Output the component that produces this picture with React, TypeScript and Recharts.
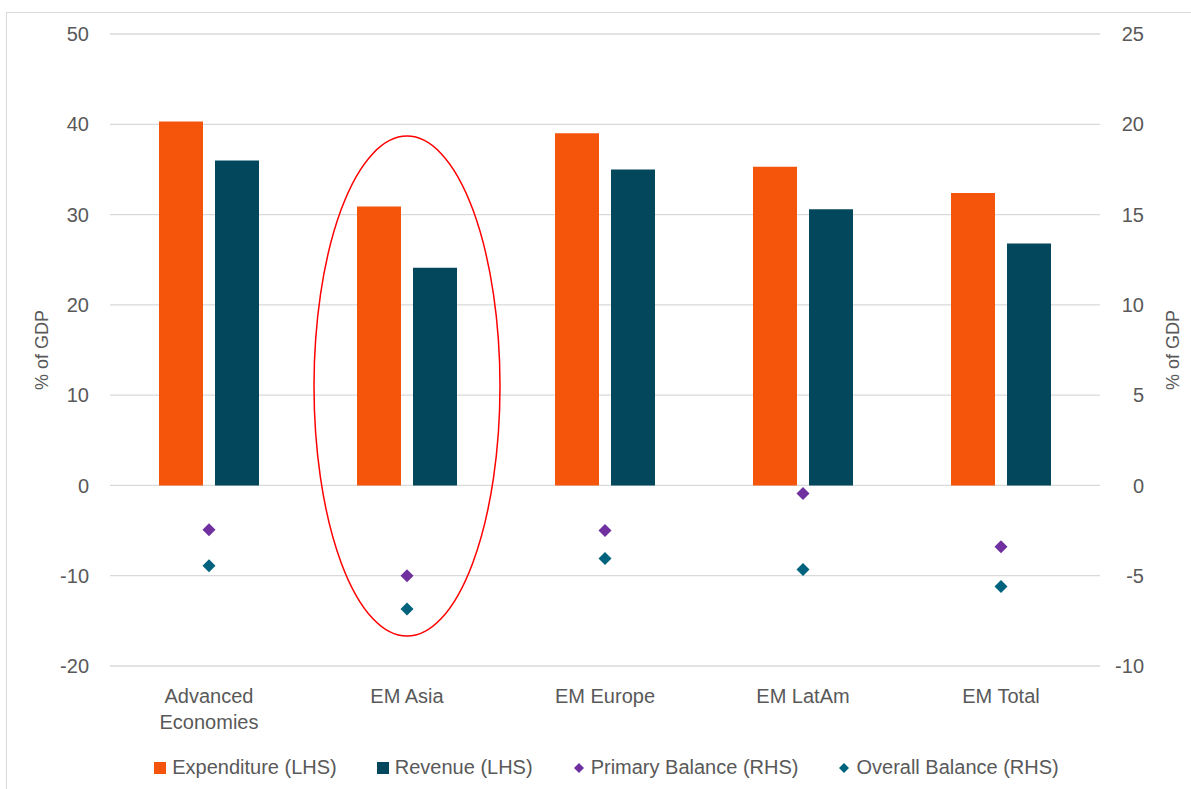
import { ComposedChart, Bar, Scatter, XAxis, YAxis, CartesianGrid, Legend, ReferenceDot } from 'recharts'

const regions = ['Advanced Economies', 'EM Asia', 'EM Europe', 'EM LatAm', 'EM Total']
const expenditure = [40.3, 30.9, 39.0, 35.3, 32.4]
const revenue = [36.0, 24.1, 35.0, 30.6, 26.8]
const primaryBalance = [-2.45, -5.0, -2.5, -0.45, -3.4]
const overallBalance = [-4.45, -6.85, -4.05, -4.65, -5.6]

const leftTicks = [-20, -10, 0, 10, 20, 30, 40, 50]
const rightTicks = [-10, -5, 0, 5, 10, 15, 20, 25]

const COLORS = {
    expenditure: '#F4550B',
    revenue: '#02475B',
    primary: '#7030A0',
    overall: '#00627D',
}

const SERIES = [
    { name: 'Expenditure (LHS)', color: COLORS.expenditure, kind: 'square' },
    { name: 'Revenue (LHS)', color: COLORS.revenue, kind: 'square' },
    { name: 'Primary Balance (RHS)', color: COLORS.primary, kind: 'diamond' },
    { name: 'Overall Balance (RHS)', color: COLORS.overall, kind: 'diamond' },
]

const data = regions.map((r, i) => ({
    region: r,
    expenditure: expenditure[i],
    revenue: revenue[i],
    primary: primaryBalance[i],
    overall: overallBalance[i],
}))

const FONT = '"Liberation Sans", Arial, sans-serif'
const TEXT = '#595959'

const Diamond = (color: string) => (props: any) => {
    const { cx, cy } = props
    const h = 6.5
    return <polygon points={`${cx},${cy - h} ${cx + h},${cy} ${cx},${cy + h} ${cx - h},${cy}`} fill={color}/>
}

function CategoryTick(props: any) {
    const { x, y, payload } = props
    const words: string[] = payload.value === 'Advanced Economies' ? ['Advanced', 'Economies'] : [payload.value]
    return (
        <text x={x} y={y} textAnchor="middle" fill={TEXT} fontSize={20} fontFamily={FONT}>
            {words.map((w, i) => (
                <tspan key={i} x={x} dy={i === 0 ? 29 : 26}>{w}</tspan>
            ))}
        </text>
    )
}

function RightTick(props: any) {
    const { x, y, payload } = props
    return (
        <text x={x} y={y} dy="0.355em" textAnchor="end" fill={TEXT} fontSize={20} fontFamily={FONT}>
            {payload.value}
        </text>
    )
}

function LegendContent() {
    return (
        <div style={{ display: 'flex', justifyContent: 'center', gap: 40, paddingLeft: 22, paddingTop: 11, fontFamily: FONT, fontSize: 20, color: TEXT }}>
            {SERIES.map((s, i) => (
                <div key={i} style={{ display: 'flex', alignItems: 'center', gap: 6 }}>
                    {s.kind === 'square'
                        ? <div style={{ width: 12, height: 12, background: s.color }}/>
                        : <svg width={12} height={12}><polygon points="6,1 11,6 6,11 1,6" fill={s.color}/></svg>}
                    <span>{s.name}</span>
                </div>
            ))}
        </div>
    )
}

export default function App() {
    return (
        <div style={{ position: 'absolute', left: 0, top: 0, width: 1191, height: 789, background: '#fff', overflow: 'hidden' }}>
            <div style={{ position: 'absolute', left: 6, top: 12, width: 1250, height: 850, border: '1px solid #d9d9d9' }}/>
            <ComposedChart
                width={1191}
                height={789}
                data={data}
                margin={{ top: 34, right: 0, bottom: 0, left: 0 }}
                barGap={12}
                style={{ position: 'absolute', left: 0, top: 0 }}>
                <CartesianGrid vertical={false} stroke="#d9d9d9" strokeWidth={1.3} yAxisId="left"/>
                <XAxis dataKey="region" axisLine={false} tickLine={false} height={79} tick={<CategoryTick/>} interval={0}/>
                <YAxis
                    yAxisId="left"
                    domain={[-20, 50]}
                    ticks={leftTicks}
                    width={110}
                    axisLine={false}
                    tickLine={false}
                    tick={{ fill: TEXT, fontSize: 20, fontFamily: FONT }}
                    tickMargin={15}
                    label={{ value: '% of GDP', angle: -90, position: 'center', dx: -13, fill: TEXT, fontSize: 18, fontFamily: FONT }}
                />
                <YAxis
                    yAxisId="right"
                    orientation="right"
                    domain={[-10, 25]}
                    ticks={rightTicks}
                    width={91}
                    axisLine={false}
                    tickLine={false}
                    tick={<RightTick/>}
                    tickMargin={38}
                    label={{ value: '% of GDP', angle: -90, position: 'center', dx: 27, fill: TEXT, fontSize: 18, fontFamily: FONT }}
                />
                <Bar yAxisId="left" dataKey="expenditure" name={SERIES[0].name} fill={COLORS.expenditure} barSize={44} isAnimationActive={false}/>
                <Bar yAxisId="left" dataKey="revenue" name={SERIES[1].name} fill={COLORS.revenue} barSize={44} isAnimationActive={false}/>
                <Scatter yAxisId="right" dataKey="primary" name={SERIES[2].name} shape={Diamond(COLORS.primary)} isAnimationActive={false}/>
                <Scatter yAxisId="right" dataKey="overall" name={SERIES[3].name} shape={Diamond(COLORS.overall)} isAnimationActive={false}/>
                <ReferenceDot
                    yAxisId="left"
                    x="EM Asia"
                    y={11}
                    shape={(p: any) => <ellipse cx={p.cx} cy={p.cy} rx={93} ry={250} fill="none" stroke="#FF0000" strokeWidth={1.5}/>}
                />
                <Legend verticalAlign="bottom" height={44} content={<LegendContent/>}/>
            </ComposedChart>
        </div>
    )
}
